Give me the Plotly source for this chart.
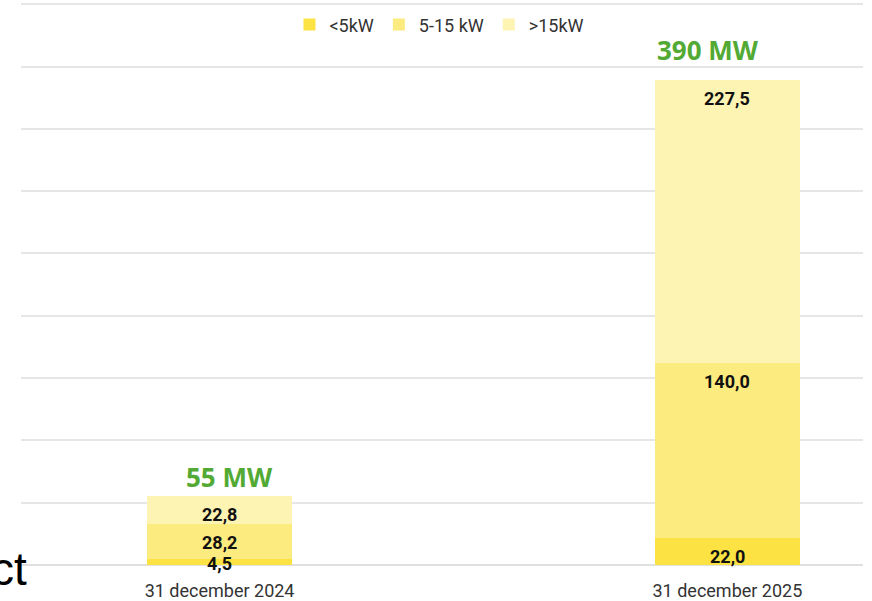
import plotly.graph_objects as go

categories = ["31 december 2024", "31 december 2025"]
series_names = ["<5kW", "5-15 kW", ">15kW"]
small = [4.5, 22.0]
mid = [28.2, 140.0]
large = [22.8, 227.5]
totals_text = ["55 MW", "390 MW"]

series_values = [small, mid, large]
colors = ["#FCE243", "#FCEB7E", "#FDF3B3"]

fig = go.Figure()
for name, vals, col in zip(series_names, series_values, colors):
    fig.add_trace(go.Bar(
        x=[0, 1], y=vals, name=name, marker=dict(color=col, line=dict(width=0)),
        width=0.285, hoverinfo="skip"))

def fmt(v):
    return f"{v:.1f}".replace(".", ",")

# segment labels
for i in range(len(categories)):
    base = 0.0
    for vals in series_values:
        v = vals[i]
        top = base + v
        if v < 10:
            fig.add_annotation(x=i, y=base + v / 2, text=f"<b>{fmt(v)}</b>", showarrow=False,
                               yanchor="middle", yshift=-1,
                               font=dict(family="Roboto", size=18, color="#111111"))
        else:
            fig.add_annotation(x=i, y=top, text=f"<b>{fmt(v)}</b>", showarrow=False,
                               yanchor="top", yshift=-6,
                               font=dict(family="Roboto", size=18, color="#111111"))
        base = top

# totals
xshifts = [10, -19]
yshifts = [-1, 10]
for i in range(len(categories)):
    tot = sum(vals[i] for vals in series_values)
    fig.add_annotation(x=i, y=tot, text=f"<b>{totals_text[i]}</b>", showarrow=False,
                       yanchor="bottom", yshift=yshifts[i], xshift=xshifts[i],
                       font=dict(family="Open Sans", size=26, color="#52AA34"))

# stray cropped text at left
fig.add_annotation(xref="paper", yref="paper", x=0, y=0, text="ct", showarrow=False,
                   xanchor="right", yanchor="middle", xshift=8, yshift=-4,
                   font=dict(family="Liberation Sans", size=46, color="#000000"))

fig.update_layout(
    width=872, height=601,
    margin=dict(l=21, r=9, t=3, b=36),
    paper_bgcolor="white", plot_bgcolor="white",
    barmode="stack",
    showlegend=True,
    legend=dict(orientation="h", x=0.497, xanchor="center", y=0.961, yanchor="middle",
                font=dict(family="Roboto", size=18, color="#333333"),
                bgcolor="rgba(0,0,0,0)", itemwidth=30, traceorder="normal"),
    xaxis=dict(tickmode="array", tickvals=[0, 1], ticktext=categories,
               range=[-0.391, 1.267], showgrid=False, zeroline=False, showline=False,
               ticks="", ticklabelstandoff=13, automargin=False,
               tickfont=dict(family="Roboto", size=18, color="#333333")),
    yaxis=dict(range=[0, 451], dtick=50, showticklabels=False, showgrid=True,
               gridcolor="#E6E6E6", gridwidth=1.5, zeroline=True, zerolinecolor="#E0E0E0",
               zerolinewidth=1.5, showline=False, ticks="", automargin=False),
)

fig.write_html("out.html", config={"displayModeBar": False},
               post_script="document.body.style.margin='0';")
